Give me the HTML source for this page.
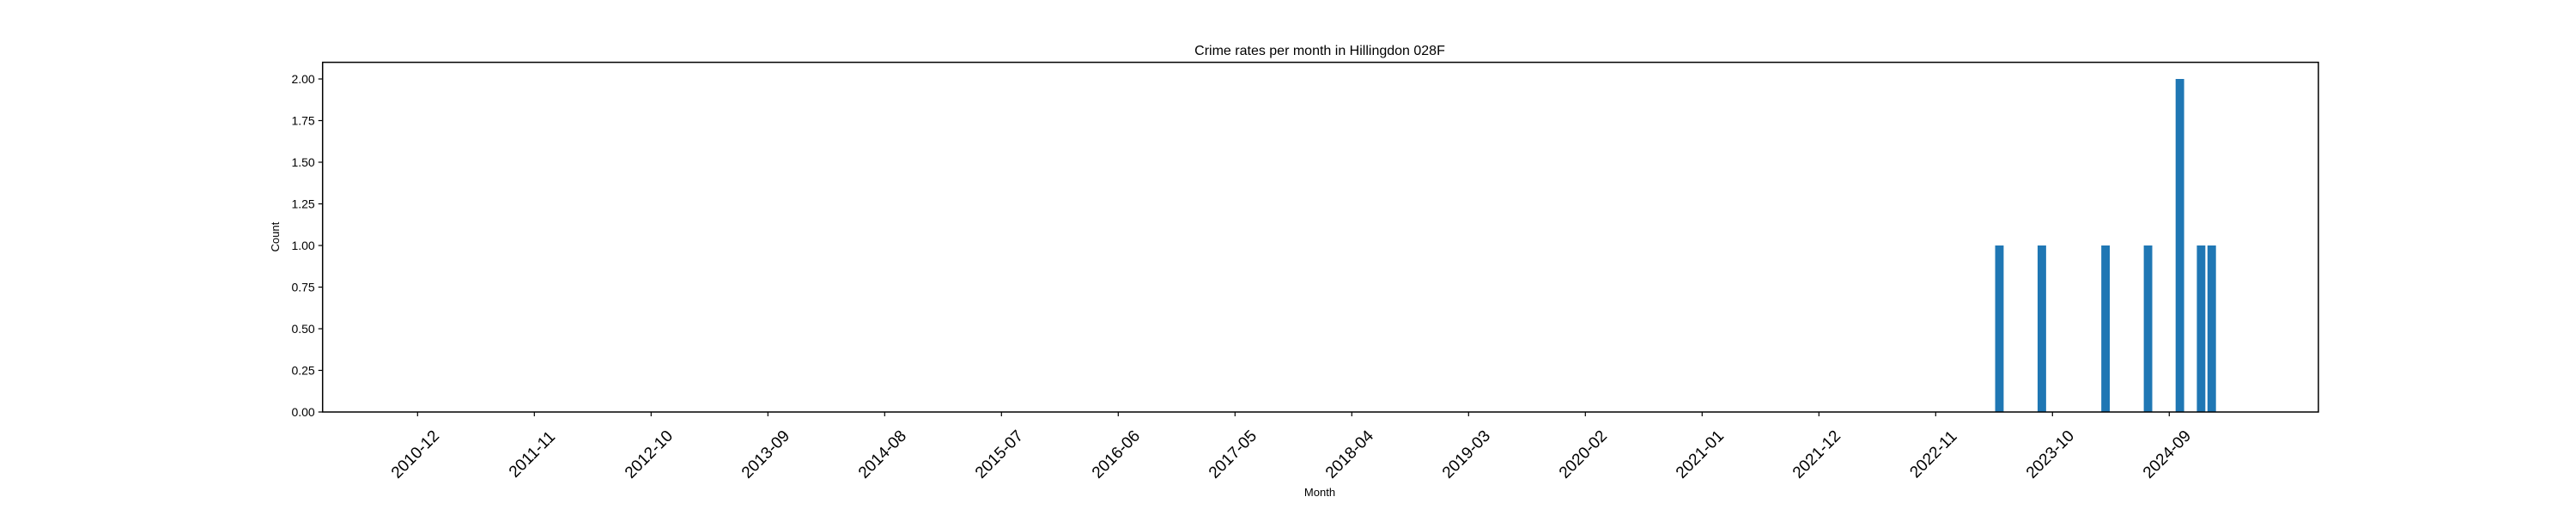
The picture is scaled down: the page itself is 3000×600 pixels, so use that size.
<!DOCTYPE html>
<html><head><meta charset="utf-8"><style>
html,body{margin:0;padding:0;background:#fff;}
svg{display:block;font-family:"Liberation Sans","DejaVu Sans",sans-serif;}
</style></head><body>
<svg id="chart" width="3000" height="600" viewBox="0 0 3000 600">
<rect x="0" y="0" width="3000" height="600" fill="#fff"/>
<text x="1537" y="64" font-size="16" text-anchor="middle">Crime rates per month in Hillingdon 028F</text>
<text x="1537" y="578" font-size="13" text-anchor="middle">Month</text>
<text transform="translate(325,276) rotate(-90)" font-size="13" text-anchor="middle">Count</text>
<g id="bars"></g>
<g id="yticks"></g>
<g id="xticks"></g>
<rect x="375.7" y="72.6" width="2324.3" height="407.4" fill="none" stroke="#000" stroke-width="1.5"/>
</svg>
<script>
const months = ["2023-05","2023-09","2024-03","2024-07","2024-10","2024-12","2025-01"];
const counts = [1,1,1,1,2,1,1];
const xTickLabels = ["2010-12","2011-11","2012-10","2013-09","2014-08","2015-07","2016-06","2017-05","2018-04","2019-03","2020-02","2021-01","2021-12","2022-11","2023-10","2024-09"];
const yTickValues = [0,0.25,0.5,0.75,1.0,1.25,1.5,1.75,2.0];

const NS="http://www.w3.org/2000/svg";
const X0=375.7, X1=2700, Y0=480, Y1=72.6, YMAX=2.1;
const refM = 2010*12+11; // 2010-12
const pxPerMonth = 136/11;
const refX = 486.3;
function mIdx(s){const [y,m]=s.split("-").map(Number);return y*12+(m-1);}
function xs(s){return refX+(mIdx(s)-refM)*pxPerMonth;}
function ys(v){return Y0-(v/YMAX)*(Y0-Y1);}
function mk(tag,attrs,parent){const e=document.createElementNS(NS,tag);for(const k in attrs)e.setAttribute(k,attrs[k]);parent.appendChild(e);return e;}

const barsG=document.getElementById("bars");
const bw=pxPerMonth*0.8;
months.forEach((m,i)=>{
  const r=mk("rect",{x:xs(m)-bw/2,y:ys(counts[i]),width:bw,height:Y0-ys(counts[i]),fill:"#1f77b4"},barsG);
  
  
});

const yg=document.getElementById("yticks");
yTickValues.forEach(v=>{
  const y=ys(v);
  const l=mk("line",{x1:X0-5,x2:X0,y1:y,y2:y,stroke:"#000","stroke-width":1.2},yg);
  
  
  const t=mk("text",{x:X0-9,y:y+5,"font-size":14,"text-anchor":"end"},yg);
  t.textContent=v.toFixed(2);
  
  
});

const xg=document.getElementById("xticks");
xTickLabels.forEach(lab=>{
  const x=xs(lab);
  const l=mk("line",{x1:x,x2:x,y1:Y0,y2:Y0+5,stroke:"#000","stroke-width":1.2},xg);
  
  
  const t=mk("text",{transform:"translate("+(x-2)+",530) rotate(-45)","font-size":19,"text-anchor":"middle","dominant-baseline":"middle"},xg);
  t.textContent=lab;
  
  
});
</script>
</body></html>
